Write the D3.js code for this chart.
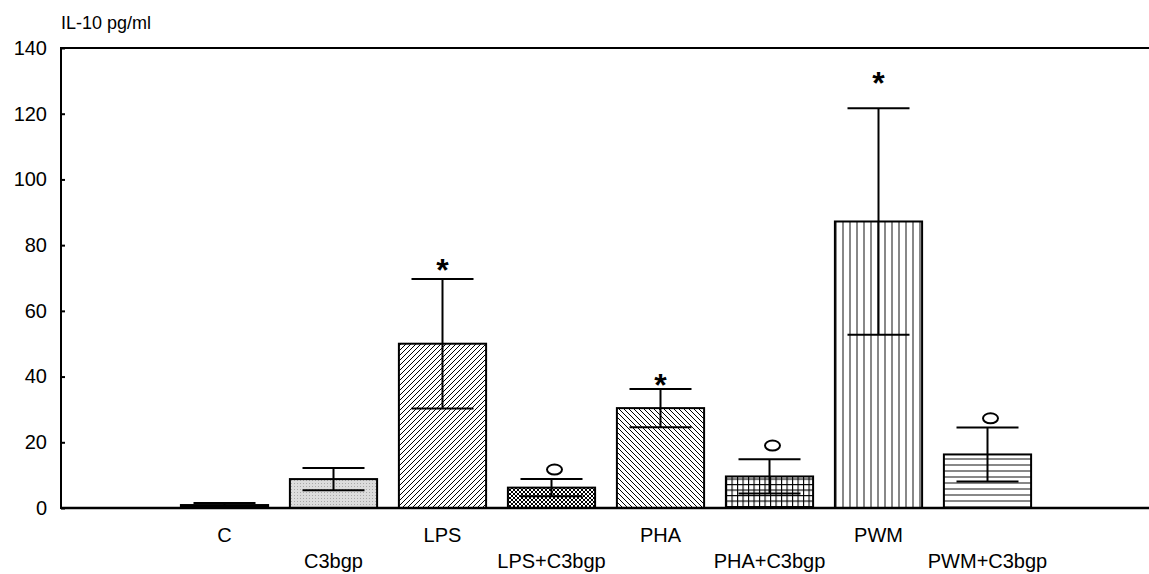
<!DOCTYPE html>
<html>
<head>
<meta charset="utf-8">
<script src="https://cdn.jsdelivr.net/npm/d3@7"></script>
<style>
  body { margin: 0; background: #fff; }
  svg { display: block; font-family: "Liberation Sans", Arial, sans-serif; }
</style>
</head>
<body>
<svg width="1149" height="574"></svg>
<script>
// data
var groups = ["C", "C3bgp", "LPS", "LPS+C3bgp", "PHA", "PHA+C3bgp", "PWM", "PWM+C3bgp"];
var means  = [0.9, 8.8, 50.0, 6.2, 30.4, 9.6, 87.2, 16.3];
var errs   = [0.6, 3.4, 19.7, 2.6, 5.8, 5.2, 34.5, 8.2];
// significance marks: "*" vs control, "o" vs stimulus alone
var marks     = ["", "", "*", "o", "*", "o", "*", "o"];
var markValue = [0, 0, 74.9, 11.7, 39.9, 19.0, 131.8, 27.3];
var yTicks = [0, 20, 40, 60, 80, 100, 120, 140];

var w = 1149, h = 574;
var plotLeft = 61, plotTop = 48, plotBottom = 508;

var svg = d3.select("svg");

// fill patterns
var defs = svg.append("defs");
function pat(id, size) {
    return defs.append("pattern")
        .attr("id", id)
        .attr("patternUnits", "userSpaceOnUse")
        .attr("width", size).attr("height", size);
}
var p;
p = pat("p0", 4);
p.append("rect").attr("width", 4).attr("height", 4).attr("fill", "#000");
p = pat("p1", 3);
p.append("rect").attr("width", 3).attr("height", 3).attr("fill", "#dcdcdc");
p.append("rect").attr("width", 1).attr("height", 1).attr("fill", "#a8a8a8");
p = pat("p2", 5);
p.append("path").attr("d", "M-1,6 L6,-1 M-1,1 L1,-1 M4,6 L6,4").attr("stroke", "#000").attr("stroke-width", 1);
p = pat("p3", 4);
p.append("rect").attr("width", 4).attr("height", 4).attr("fill", "#fff");
p.append("path").attr("d", "M0,0 L4,4 M4,0 L0,4").attr("stroke", "#000").attr("stroke-width", 1);
p = pat("p4", 5);
p.append("path").attr("d", "M-1,-1 L6,6 M4,-1 L6,1 M-1,4 L1,6").attr("stroke", "#000").attr("stroke-width", 1);
p = pat("p5", 5.5);
p.append("rect").attr("width", 5.5).attr("height", 5.5).attr("fill", "#fff");
p.append("path").attr("d", "M0,0.5 H5.5 M0.5,0 V5.5").attr("stroke", "#000").attr("stroke-width", 1.2);
p = pat("p6", 7);
p.append("rect").attr("width", 7).attr("height", 7).attr("fill", "#fff");
p.append("rect").attr("x", 2).attr("width", 2).attr("height", 7).attr("fill", "#888");
p = pat("p7", 6);
p.append("rect").attr("width", 6).attr("height", 6).attr("fill", "#fff");
p.append("rect").attr("y", 2).attr("width", 6).attr("height", 2).attr("fill", "#888");

// scales
var x = d3.scaleBand()
    .domain(groups)
    .range([170, 1042])
    .paddingInner(0.2)
    .paddingOuter(0.1);

var y = d3.scaleLinear()
    .domain([0, 140])
    .range([plotBottom, plotTop]);

// y axis, ticks pointing inward
var yAxis = svg.append("g")
    .attr("transform", "translate(" + plotLeft + ",0)")
    .call(d3.axisRight(y).tickValues(yTicks).tickSize(4).tickSizeOuter(0));
yAxis.select(".domain").remove();
yAxis.selectAll(".tick line").attr("stroke", "#000").attr("stroke-width", 2);
yAxis.selectAll(".tick text")
    .attr("x", -14)
    .attr("text-anchor", "end")
    .attr("fill", "#000")
    .style("font-size", "20px");

// frame lines
svg.append("line")
    .attr("x1", plotLeft).attr("x2", plotLeft).attr("y1", plotTop - 1).attr("y2", plotBottom + 1)
    .attr("stroke", "#000").attr("stroke-width", 2);
svg.append("line")
    .attr("x1", plotLeft).attr("x2", w).attr("y1", plotTop).attr("y2", plotTop)
    .attr("stroke", "#000").attr("stroke-width", 2);

// bars
svg.selectAll("rect.bar")
    .data(groups)
    .enter()
    .append("rect")
    .attr("class", "bar")
    .attr("x", function(d) { return x(d); })
    .attr("y", function(d, i) { return y(means[i]); })
    .attr("width", x.bandwidth())
    .attr("height", function(d, i) { return y(0) - y(means[i]); })
    .attr("fill", function(d, i) { return "url(#p" + i + ")"; })
    .attr("stroke", "#000")
    .attr("stroke-width", 2);

// x axis line on top of bars
svg.append("line")
    .attr("x1", plotLeft).attr("x2", w).attr("y1", plotBottom).attr("y2", plotBottom)
    .attr("stroke", "#000").attr("stroke-width", 2.5);

// error bars
var capHalf = 31;
var eb = svg.selectAll("g.err")
    .data(groups)
    .enter()
    .append("g")
    .attr("class", "err")
    .attr("stroke", "#000")
    .attr("stroke-width", 2);
eb.append("line")
    .attr("x1", function(d) { return x(d) + x.bandwidth() / 2; })
    .attr("x2", function(d) { return x(d) + x.bandwidth() / 2; })
    .attr("y1", function(d, i) { return y(means[i] - errs[i]); })
    .attr("y2", function(d, i) { return y(means[i] + errs[i]); });
eb.append("line")
    .attr("x1", function(d) { return x(d) + x.bandwidth() / 2 - capHalf; })
    .attr("x2", function(d) { return x(d) + x.bandwidth() / 2 + capHalf; })
    .attr("y1", function(d, i) { return y(means[i] + errs[i]); })
    .attr("y2", function(d, i) { return y(means[i] + errs[i]); });
eb.append("line")
    .attr("x1", function(d) { return x(d) + x.bandwidth() / 2 - capHalf; })
    .attr("x2", function(d) { return x(d) + x.bandwidth() / 2 + capHalf; })
    .attr("y1", function(d, i) { return y(means[i] - errs[i]); })
    .attr("y2", function(d, i) { return y(means[i] - errs[i]); });

// significance marks
groups.forEach(function(g, i) {
    var cx = x(g) + x.bandwidth() / 2;
    if (marks[i] === "*") {
        svg.append("text")
            .attr("x", cx)
            .attr("y", y(markValue[i]) + 19)
            .attr("text-anchor", "middle")
            .style("font-size", "32px")
            .style("font-weight", "bold")
            .text("*");
    } else if (marks[i] === "o") {
        svg.append("ellipse")
            .attr("cx", cx + 3)
            .attr("cy", y(markValue[i]))
            .attr("rx", 7.5)
            .attr("ry", 5)
            .attr("fill", "none")
            .attr("stroke", "#000")
            .attr("stroke-width", 2);
    }
});

// category labels, staggered in two rows
svg.selectAll("text.cat")
    .data(groups)
    .enter()
    .append("text")
    .attr("class", "cat")
    .attr("x", function(d) { return x(d) + x.bandwidth() / 2; })
    .attr("y", function(d, i) { return i % 2 === 0 ? 542 : 568; })
    .attr("text-anchor", "middle")
    .style("font-size", "20px")
    .text(function(d) { return d; });

// unit title
svg.append("text")
    .attr("x", 61)
    .attr("y", 29)
    .style("font-size", "18px")
    .text("IL-10 pg/ml");
</script>
</body>
</html>
